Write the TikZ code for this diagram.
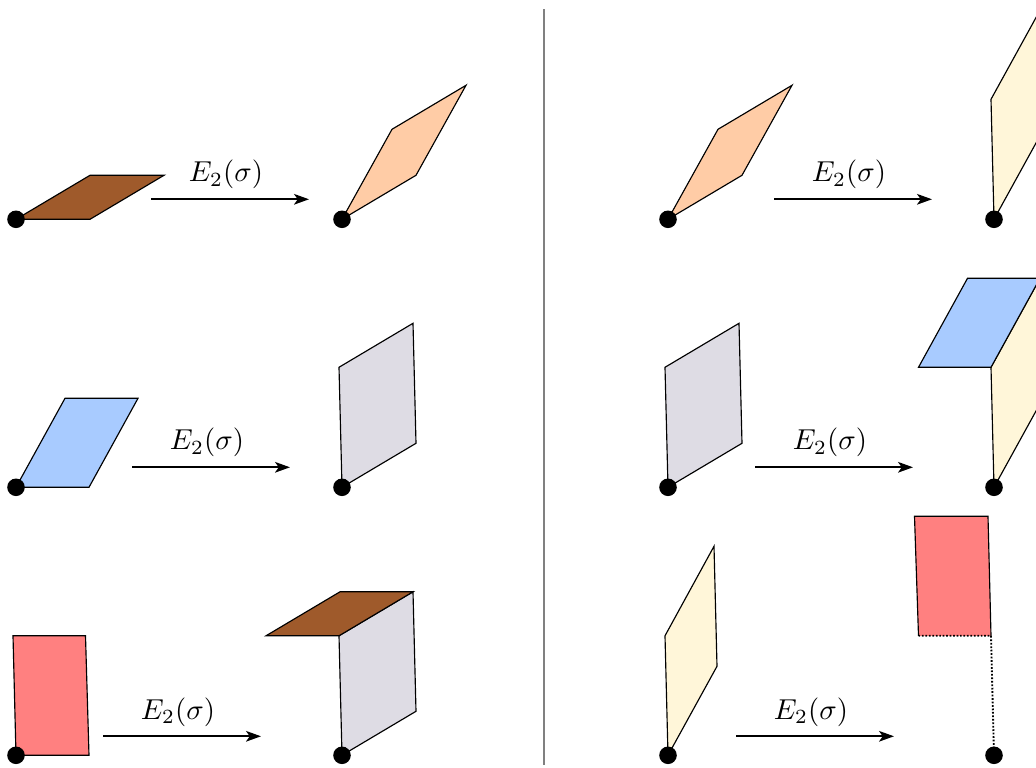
\documentclass[tikz,border=0pt]{standalone}
\usetikzlibrary{arrows.meta}
\definecolor{cbrown}{HTML}{9F5A2B}
\definecolor{cpeach}{HTML}{FFCCA6}
\definecolor{cblue}{HTML}{A8CBFF}
\definecolor{cgrey}{HTML}{DEDCE4}
\definecolor{cred}{HTML}{FF8080}
\definecolor{cyellow}{HTML}{FFF6D9}
\tikzset{
  facet/.style={draw=black,line width=0.4pt,line join=miter},
  basept/.style={circle,fill=black,inner sep=0pt,minimum size=6.1pt},
  maparrow/.style={-{Stealth[length=5.2pt,width=3.7pt,inset=1.3pt]},line width=0.6pt},
  maplabel/.style={inner sep=0pt,anchor=center},
  divider/.style={draw=black!50,line width=0.5pt}
}
\begin{document}
\begin{tikzpicture}[x=0.347pt,y=-0.347pt]
\useasboundingbox (0,0) rectangle (1036,768);
\clip (0,0) rectangle (1036,768);
\begin{scope}[yshift=-0.1pt]
% divider
\coordinate (divtop) at (544,9); \coordinate (divbot) at (544,765);
\draw[divider] (divtop) -- (divbot);
% left column
\draw[facet,fill=cbrown] (16,219) -- (90,175) -- (164,175) -- (90,219) -- cycle;
\draw[facet,fill=cpeach] (342,219) -- (392,129) -- (466,85) -- (416,175) -- cycle;
\draw[facet,fill=cblue] (16,487) -- (65,398) -- (138,398) -- (89,487) -- cycle;
\draw[facet,fill=cgrey] (342,487) -- (339,367) -- (413,323) -- (416,443) -- cycle;
\draw[facet,fill=cred] (16,755) -- (13,635.5) -- (85.5,635.5) -- (89,755) -- cycle;
\draw[facet,fill=cgrey] (342,755) -- (339,635.5) -- (413,591.5) -- (416,711) -- cycle;
\draw[facet,fill=cbrown] (266,635.5) -- (340,591.5) -- (413,591.5) -- (339,635.5) -- cycle;
% right column
\draw[facet,fill=cpeach] (668,219) -- (718,129) -- (792,85) -- (742,175) -- cycle;
\draw[facet,fill=cyellow] (994,219) -- (991,99) -- (1040,10) -- (1043,130) -- cycle;
\draw[facet,fill=cgrey] (668,487) -- (665,367) -- (739,323) -- (742,443) -- cycle;
\draw[facet,fill=cyellow] (994,487) -- (991,367) -- (1040,278) -- (1043,398) -- cycle;
\draw[facet,fill=cblue] (918.5,367) -- (967.5,278) -- (1040,278) -- (991,367) -- cycle;
\draw[facet,fill=cyellow] (668,755) -- (665,635.5) -- (714,546) -- (717,666) -- cycle;
\fill[cred] (918.5,635.5) -- (914.5,516) -- (988,516) -- (991,635.5) -- cycle;
\draw[facet] (918.5,635.5) -- (914.5,516) -- (988,516) -- (991,635.5);
\draw[line width=0.65pt,dash pattern=on 0.6pt off 0.6pt] (918.5,635.5) -- (991,635.5) -- (994,755);
% base points
\foreach \n/\x/\y in {a/16/219,b/342/219,c/668/219,d/994/219,e/16/487,f/342/487,g/668/487,h/994/487,i/16/755,j/342/755,k/668/755,l/994/755}
  \node[basept] (pt\n) at (\x,\y) {};
% arrows
\foreach \n/\xa/\xb/\y/\lx/\ly in {p/151/309/199/226/174.5, q/132/290/467/207/442.5, r/103/261/736/178/711.5, s/774/932/199/849/174.5, t/755/913/467/830/442.5, u/736/894/736/811/711.5}{
  \coordinate (\n s) at (\xa,\y);
  \coordinate (\n e) at (\xb,\y);
  \draw[maparrow] (\n s) -- (\n e);
  \node[maplabel] (\n l) at (\lx,\ly) {$E_2(\sigma)$};
}
\end{scope}
\end{tikzpicture}
\end{document}
